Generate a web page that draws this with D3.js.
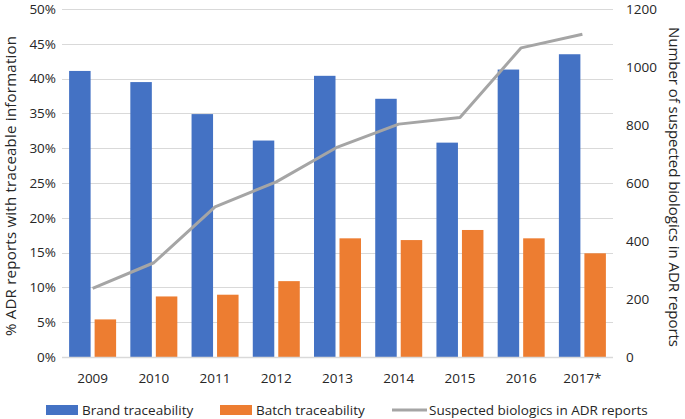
<!DOCTYPE html>
<html><head><meta charset="utf-8">
<script src="https://cdn.jsdelivr.net/npm/d3@7"></script>
<style>body{margin:0;background:#fff}svg{display:block}text{font-family:"Open Sans",sans-serif;fill:#262626}</style>
</head><body><svg id="c" width="685" height="419"></svg>
<script>
const years = ["2009","2010","2011","2012","2013","2014","2015","2016","2017*"];
const brand = [41.1, 39.5, 34.9, 31.1, 40.4, 37.1, 30.8, 41.3, 43.5];
const batch = [5.4, 8.7, 8.95, 10.9, 17.05, 16.8, 18.25, 17.05, 14.9];
const biologics = [237, 325, 518, 604, 724, 803, 826, 1066, 1113];
const leftTicks = [0,5,10,15,20,25,30,35,40,45,50];
const rightTicks = [0,200,400,600,800,1000,1200];
const seriesNames = ["Brand traceability","Batch traceability","Suspected biologics in ADR reports"];
const colors = {brand:"#4472C4", batch:"#ED7D31", line:"#A5A5A5"};

const svg = d3.select("#c");
const L = 62, R = 613, T = 9, B = 357;
const x = d3.scaleBand().domain(years).range([L, R]).paddingInner(0).paddingOuter(0);
const yL = d3.scaleLinear().domain([0, 50]).range([B, T]);
const yR = d3.scaleLinear().domain([0, 1200]).range([B, T]);
const bw = 21.5, gap = 4;

// grid
svg.append("g").selectAll("line").data(leftTicks).join("line")
  .attr("x1", L).attr("x2", R).attr("y1", d => Math.round(yL(d))+0.5).attr("y2", d => Math.round(yL(d))+0.5)
  .attr("stroke", "#d9d9d9").attr("stroke-width", 1);

// left axis
const axL = svg.append("g").attr("transform", `translate(${L-6},0)`)
  .call(d3.axisLeft(yL).tickValues(leftTicks).tickFormat(d => d + "%").tickSize(0).tickPadding(0));
axL.select(".domain").remove();
axL.selectAll("text").attr("font-size", 13.5).attr("font-family", "Open Sans").attr("fill", "#404040");

// right axis
const axR = svg.append("g").attr("transform", `translate(${R+13},0)`)
  .call(d3.axisRight(yR).tickValues(rightTicks).tickFormat(d3.format("d")).tickSize(0).tickPadding(0));
axR.select(".domain").remove();
axR.selectAll("text").attr("font-size", 13.5).attr("font-family", "Open Sans").attr("fill", "#404040");

// bars
const g = svg.append("g");
g.selectAll("rect.brand").data(years).join("rect").attr("class","brand")
  .attr("x", d => x(d) + x.bandwidth()/2 - gap/2 - bw)
  .attr("y", (d,i) => yL(brand[i])).attr("width", bw)
  .attr("height", (d,i) => yL(0) - yL(brand[i])).attr("fill", colors.brand);
g.selectAll("rect.batch").data(years).join("rect").attr("class","batch")
  .attr("x", d => x(d) + x.bandwidth()/2 + gap/2)
  .attr("y", (d,i) => yL(batch[i])).attr("width", bw)
  .attr("height", (d,i) => yL(0) - yL(batch[i])).attr("fill", colors.batch);

// baseline
svg.append("line").attr("x1", L).attr("x2", R).attr("y1", Math.round(B)+0.5).attr("y2", Math.round(B)+0.5)
  .attr("stroke", "#d9d9d9").attr("stroke-width", 1.5);

// line
const line = d3.line().x((d,i) => x(years[i]) + x.bandwidth()/2).y(d => yR(d));
svg.append("path").datum(biologics).attr("d", line).attr("fill", "none")
  .attr("stroke", colors.line).attr("stroke-width", 3).attr("stroke-linejoin", "round");

// x labels
svg.append("g").selectAll("text").data(years).join("text")
  .attr("x", d => x(d) + x.bandwidth()/2).attr("y", 383)
  .attr("text-anchor", "middle").attr("font-size", 13.5).attr("fill", "#404040").text(d => d);

// axis titles
svg.append("text").attr("transform", `translate(16,186) rotate(-90)`)
  .attr("text-anchor", "middle").attr("font-size", 15).attr("fill", "#404040")
  .attr("textLength", 300).attr("lengthAdjust", "spacing")
  .text("% ADR reports with traceable information");
svg.append("text").attr("transform", `translate(669,187) rotate(90)`)
  .attr("text-anchor", "middle").attr("font-size", 15).attr("fill", "#404040")
  .attr("textLength", 320).attr("lengthAdjust", "spacing")
  .text("Number of suspected biologics in ADR reports");

// legend
const leg = svg.append("g");
leg.append("rect").attr("x", 46).attr("y", 405).attr("width", 32).attr("height", 10).attr("fill", colors.brand);
leg.append("text").attr("x", 82).attr("y", 415).attr("font-size", 13.5).attr("fill", "#404040").text(seriesNames[0]);
leg.append("rect").attr("x", 220).attr("y", 405).attr("width", 32).attr("height", 10).attr("fill", colors.batch);
leg.append("text").attr("x", 256).attr("y", 415).attr("font-size", 13.5).attr("fill", "#404040").text(seriesNames[1]);
leg.append("line").attr("x1", 392).attr("x2", 427).attr("y1", 410).attr("y2", 410).attr("stroke", colors.line).attr("stroke-width", 3);
leg.append("text").attr("x", 429).attr("y", 415).attr("font-size", 13.5).attr("fill", "#404040").text(seriesNames[2]);
</script></body></html>
